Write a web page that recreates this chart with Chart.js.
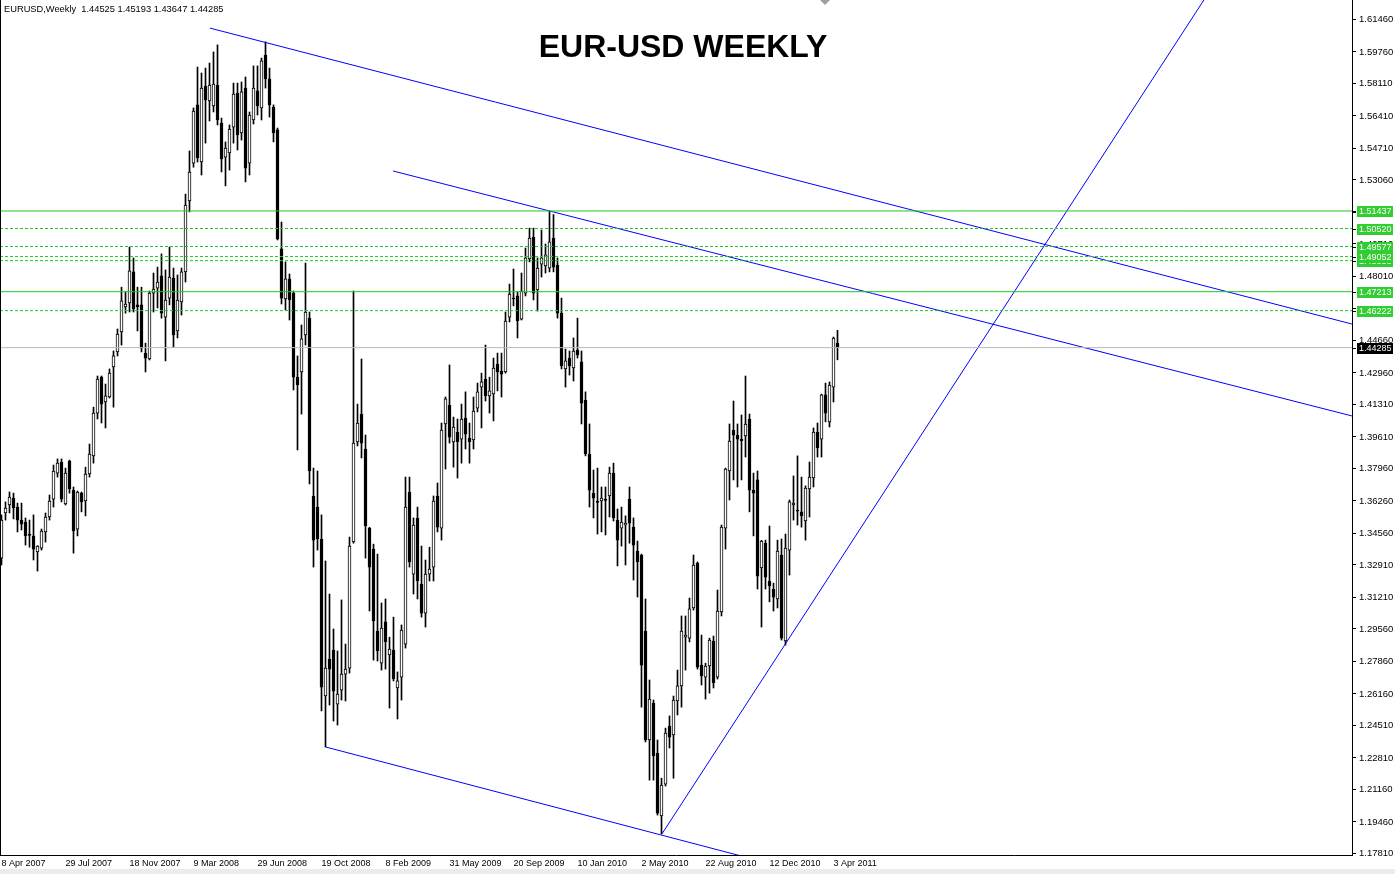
<!DOCTYPE html>
<html>
<head>
<meta charset="utf-8">
<title>EUR-USD Weekly</title>
<script src="https://cdn.jsdelivr.net/npm/chart.js"></script>
<style>
  html, body { margin: 0; padding: 0; background: #fff; }
  canvas { display: block; }
</style>
</head>
<body>
<canvas id="chart" width="1395" height="874"></canvas>
<script>
/* ---------- DATA (weekly bars, week 0 = 8 Apr 2007) ---------- */
const opens = [
  1.3327, 1.3563, 1.3605, 1.3641, 1.3594, 1.3526, 1.3516, 1.3448, 1.3443, 1.3359,
  1.3379, 1.3464, 1.3542, 1.3636, 1.3772, 1.3830, 1.3610, 1.3835, 1.3683, 1.3479,
  1.3667, 1.3626, 1.3767, 1.3862, 1.4086, 1.4274, 1.4144, 1.4170, 1.4327, 1.4406,
  1.4511, 1.4641, 1.4662, 1.4825, 1.4652, 1.4652, 1.4400, 1.4369, 1.4714, 1.4740,
  1.4804, 1.4588, 1.4688, 1.4793, 1.4516, 1.4668, 1.4825, 1.5196, 1.5394, 1.5699,
  1.5400, 1.5798, 1.5720, 1.5694, 1.5803, 1.5604, 1.5426, 1.5447, 1.5583, 1.5761,
  1.5552, 1.5787, 1.5394, 1.5620, 1.5772, 1.5683, 1.5960, 1.5835, 1.5688, 1.5568,
  1.4945, 1.4683, 1.4788, 1.4714, 1.4274, 1.4301, 1.4495, 1.4583, 1.3652, 1.3594,
  1.3427, 1.2605, 1.2799, 1.2846, 1.2563, 1.2636, 1.2720, 1.2751, 1.3411, 1.3935,
  1.4081, 1.3898, 1.3484, 1.3374, 1.2945, 1.2777, 1.2993, 1.2820, 1.2846, 1.2647,
  1.2704, 1.2877, 1.3673, 1.3243, 1.3537, 1.3191, 1.3039, 1.3243, 1.3280, 1.3652,
  1.3484, 1.4029, 1.4128, 1.3935, 1.3987, 1.3950, 1.4060, 1.3955, 1.3945, 1.4112,
  1.4222, 1.4264, 1.4176, 1.4186, 1.4343, 1.4306, 1.4301, 1.4588, 1.4688, 1.4699,
  1.4578, 1.4714, 1.4893, 1.5007, 1.4730, 1.4866, 1.4856, 1.4845, 1.5002, 1.4861,
  1.4609, 1.4317, 1.4374, 1.4322, 1.4416, 1.4354, 1.4154, 1.3872, 1.3667, 1.3621,
  1.3626, 1.3631, 1.3652, 1.3772, 1.3526, 1.3484, 1.3500, 1.3636, 1.3489, 1.3364,
  1.3343, 1.2945, 1.2375, 1.2568, 1.2306, 1.1977, 1.2144, 1.2448, 1.2401, 1.2579,
  1.2658, 1.2913, 1.2908, 1.3066, 1.3301, 1.2767, 1.2704, 1.2762, 1.2893, 1.2704,
  1.3045, 1.3484, 1.3783, 1.3997, 1.3971, 1.3950, 1.3966, 1.4055, 1.3683, 1.3736,
  1.3275, 1.3405, 1.3207, 1.3165, 1.3113, 1.3343, 1.2893, 1.3369, 1.3605, 1.3574,
  1.3569, 1.3521, 1.3689, 1.3746, 1.3987, 1.3950, 1.4181, 1.4040, 1.4222, 1.44525
];
const highs = [
  1.3553, 1.3621, 1.3673, 1.3667, 1.3615, 1.3615, 1.3537, 1.3526, 1.3553, 1.3392,
  1.3479, 1.3563, 1.3657, 1.3814, 1.3846, 1.3846, 1.3798, 1.3840, 1.3699, 1.3678,
  1.3673, 1.3803, 1.3924, 1.4117, 1.4280, 1.4280, 1.4238, 1.4317, 1.4411, 1.4526,
  1.4745, 1.4720, 1.4955, 1.4898, 1.4745, 1.4745, 1.4452, 1.4725, 1.4819, 1.4850,
  1.4919, 1.4835, 1.4955, 1.4845, 1.4809, 1.4845, 1.5232, 1.5458, 1.5683, 1.5897,
  1.5866, 1.5892, 1.5918, 1.5976, 1.6013, 1.5630, 1.5505, 1.5594, 1.5813, 1.5813,
  1.5819, 1.5845, 1.5662, 1.5903, 1.5903, 1.5944, 1.6029, 1.5892, 1.5699, 1.5578,
  1.5086, 1.4877, 1.4814, 1.4725, 1.4385, 1.4547, 1.4871, 1.4615, 1.3798, 1.3783,
  1.3553, 1.3312, 1.3139, 1.2956, 1.2841, 1.3108, 1.2877, 1.3437, 1.4725, 1.4133,
  1.4369, 1.3971, 1.3488, 1.3400, 1.3348, 1.3092, 1.3113, 1.2913, 1.3018, 1.2731,
  1.2977, 1.3751, 1.3751, 1.3537, 1.3594, 1.3390, 1.3317, 1.3384, 1.3652, 1.3720,
  1.4034, 1.4170, 1.4338, 1.4065, 1.4055, 1.4133, 1.4197, 1.4034, 1.4170, 1.4243,
  1.4295, 1.4442, 1.4274, 1.4374, 1.4400, 1.4400, 1.4615, 1.4761, 1.4840, 1.4720,
  1.4819, 1.4950, 1.5054, 1.5054, 1.4898, 1.5044, 1.4971, 1.5144, 1.5125, 1.4898,
  1.4688, 1.4421, 1.4411, 1.4479, 1.4583, 1.4411, 1.4197, 1.4029, 1.3788, 1.3798,
  1.3699, 1.3699, 1.3803, 1.3824, 1.3584, 1.3594, 1.3548, 1.3699, 1.3537, 1.3416,
  1.3348, 1.3113, 1.2689, 1.2584, 1.2375, 1.2175, 1.2437, 1.2501, 1.2605, 1.2741,
  1.3024, 1.3024, 1.3118, 1.3343, 1.3307, 1.2924, 1.2777, 1.2908, 1.2919, 1.3160,
  1.3500, 1.3798, 1.4029, 1.4149, 1.4029, 1.4076, 1.4280, 1.4081, 1.3772, 1.3783,
  1.3420, 1.3421, 1.3495, 1.3196, 1.3421, 1.3427, 1.3453, 1.3631, 1.3757, 1.3862,
  1.3751, 1.3705, 1.3830, 1.4008, 1.4034, 1.4185, 1.4243, 1.4249, 1.4484, 1.45193
];
const lows = [
  1.3291, 1.3526, 1.3563, 1.3532, 1.3464, 1.3474, 1.3395, 1.3384, 1.3317, 1.3259,
  1.3369, 1.3411, 1.3526, 1.3594, 1.3751, 1.3621, 1.3605, 1.3667, 1.3353, 1.3443,
  1.3569, 1.3548, 1.3751, 1.3824, 1.4055, 1.4034, 1.4008, 1.4165, 1.4117, 1.4385,
  1.4442, 1.4609, 1.4615, 1.4615, 1.4516, 1.4406, 1.4301, 1.4364, 1.4615, 1.4636,
  1.4583, 1.4359, 1.4652, 1.4431, 1.4479, 1.4599, 1.4772, 1.5139, 1.5373, 1.5400,
  1.5332, 1.5499, 1.5615, 1.5662, 1.5594, 1.5348, 1.5275, 1.5358, 1.5499, 1.5463,
  1.5515, 1.5296, 1.5332, 1.5599, 1.5646, 1.5620, 1.5787, 1.5635, 1.5505, 1.4992,
  1.4657, 1.4625, 1.4573, 1.4207, 1.3893, 1.4081, 1.4442, 1.3715, 1.3280, 1.3369,
  1.2527, 1.2338, 1.2558, 1.2474, 1.2453, 1.2584, 1.2579, 1.2725, 1.3405, 1.3914,
  1.3851, 1.3327, 1.3050, 1.2793, 1.2788, 1.2741, 1.2746, 1.2542, 1.2684, 1.2485,
  1.2584, 1.2856, 1.3280, 1.3139, 1.3113, 1.3018, 1.2966, 1.3207, 1.3207, 1.3464,
  1.3421, 1.3793, 1.3929, 1.3803, 1.3746, 1.3824, 1.3898, 1.3824, 1.3898, 1.4092,
  1.4008, 1.4149, 1.4086, 1.4045, 1.4202, 1.4170, 1.4295, 1.4563, 1.4647, 1.4479,
  1.4573, 1.4699, 1.4877, 1.4678, 1.4620, 1.4798, 1.4819, 1.4825, 1.4825, 1.4583,
  1.4317, 1.4222, 1.4285, 1.4254, 1.4374, 1.4029, 1.3862, 1.3594, 1.3537, 1.3453,
  1.3464, 1.3448, 1.3542, 1.3521, 1.3286, 1.3390, 1.3291, 1.3405, 1.3212, 1.3123,
  1.2547, 1.2365, 1.2165, 1.2165, 1.1982, 1.1883, 1.2134, 1.2333, 1.2175, 1.2506,
  1.2547, 1.2741, 1.2888, 1.3055, 1.2746, 1.2663, 1.2589, 1.2620, 1.2647, 1.2694,
  1.3024, 1.3374, 1.3631, 1.3736, 1.3699, 1.3736, 1.3856, 1.3569, 1.3443, 1.3165,
  1.2966, 1.3165, 1.3098, 1.3050, 1.3066, 1.2898, 1.2872, 1.3238, 1.3526, 1.3500,
  1.3489, 1.3421, 1.3542, 1.3699, 1.3856, 1.3856, 1.4040, 1.4013, 1.4144, 1.43647
];
const closes = [
  1.3526, 1.3589, 1.3646, 1.3589, 1.3526, 1.3505, 1.3443, 1.3446, 1.3374, 1.3390,
  1.3469, 1.3542, 1.3626, 1.3783, 1.3824, 1.3636, 1.3772, 1.3689, 1.3469, 1.3673,
  1.3621, 1.3767, 1.3872, 1.4086, 1.4264, 1.4133, 1.4176, 1.4295, 1.4385, 1.4500,
  1.4673, 1.4657, 1.4830, 1.4631, 1.4641, 1.4426, 1.4374, 1.4714, 1.4735, 1.4772,
  1.4609, 1.4678, 1.4798, 1.4495, 1.4678, 1.4825, 1.5175, 1.5348, 1.5667, 1.5421,
  1.5787, 1.5725, 1.5803, 1.5808, 1.5620, 1.5416, 1.5473, 1.5573, 1.5756, 1.5542,
  1.5767, 1.5368, 1.5646, 1.5787, 1.5694, 1.5929, 1.5835, 1.5699, 1.5552, 1.4997,
  1.4688, 1.4788, 1.4678, 1.4274, 1.4233, 1.4474, 1.4615, 1.3783, 1.3421, 1.3427,
  1.2652, 1.2751, 1.2746, 1.2631, 1.2615, 1.2720, 1.2746, 1.3390, 1.3929, 1.4034,
  1.3929, 1.3495, 1.3280, 1.2998, 1.2841, 1.2961, 1.2888, 1.2851, 1.2694, 1.2684,
  1.2950, 1.3594, 1.3307, 1.3500, 1.3207, 1.3039, 1.3243, 1.3270, 1.3626, 1.3489,
  1.3997, 1.4160, 1.3960, 1.4013, 1.3935, 1.4055, 1.3976, 1.3935, 1.4097, 1.4197,
  1.4249, 1.4176, 1.4202, 1.4322, 1.4301, 1.4290, 1.4568, 1.4709, 1.4683, 1.4568,
  1.4725, 1.4898, 1.5002, 1.4714, 1.4845, 1.4898, 1.4914, 1.4982, 1.4850, 1.4609,
  1.4333, 1.4359, 1.4333, 1.4411, 1.4390, 1.4138, 1.3872, 1.3683, 1.3641, 1.3619,
  1.3641, 1.3629, 1.3772, 1.3537, 1.3421, 1.3516, 1.3510, 1.3510, 1.3395, 1.3307,
  1.2767, 1.2375, 1.2589, 1.2291, 1.1992, 1.2139, 1.2411, 1.2390, 1.2584, 1.2658,
  1.2945, 1.2924, 1.3061, 1.3291, 1.2756, 1.2710, 1.2762, 1.2898, 1.2673, 1.3050,
  1.3489, 1.3793, 1.3940, 1.3971, 1.3950, 1.3940, 1.4029, 1.3683, 1.3667, 1.3233,
  1.3416, 1.3227, 1.3181, 1.3123, 1.3364, 1.2908, 1.3379, 1.3621, 1.3615, 1.3572,
  1.3548, 1.3694, 1.3751, 1.3987, 1.3903, 1.4181, 1.4086, 1.4233, 1.4479, 1.44285
];

const xTickWeeks = [0, 16, 32, 48, 64, 80, 96, 112, 128, 144, 160, 176, 192, 208];
const xTickLabels = [
  "8 Apr 2007", "29 Jul 2007", "18 Nov 2007", "9 Mar 2008", "29 Jun 2008",
  "19 Oct 2008", "8 Feb 2009", "31 May 2009", "20 Sep 2009", "10 Jan 2010",
  "2 May 2010", "22 Aug 2010", "12 Dec 2010", "3 Apr 2011"
];
const yTicks = [
  1.61460, 1.59760, 1.58110, 1.56410, 1.54710, 1.53060, 1.51360, 1.49710, 1.48010,
  1.46310, 1.44660, 1.42960, 1.41310, 1.39610, 1.37960, 1.36260, 1.34560, 1.32910,
  1.31210, 1.29560, 1.27860, 1.26160, 1.24510, 1.22810, 1.21160, 1.19460, 1.17810
];

// horizontal levels
const greenSolid = [1.51437, 1.47213];
const greenDash = [1.50520, 1.49577, 1.49052, 1.48838, 1.46222];
const bidPrice = 1.44285;

// trend lines, [week, price] pairs
const upperLine = [[52.1, 1.6101], [337.6, 1.4552]];
const middleLine = [[97.9, 1.5353], [337.6, 1.4071]];
const lowerLine = [[81.1, 1.2338], [200, 1.1685]];
const risingLine = [[165.1, 1.1883], [300.6, 1.6248]];

/* ---------- SETUP ---------- */
const X_MIN = -0.375;
const X_MAX = 337.625;
const Y_MIN = 1.1773;
const Y_MAX = 1.6248;
const FONT = "'Liberation Sans', Arial, sans-serif";
const GREEN = "#1fc81f";

const bodyData = opens.map((o, i) => ({ x: i, y: [o, closes[i]] }));
const wickData = opens.map((o, i) => ({ x: i, y: [lows[i], highs[i]] }));
const bodyColors = opens.map((o, i) => (closes[i] >= o ? "#ffffff" : "#000000"));

function levelLine(v, color, dash) {
  return {
    type: "line",
    data: [{ x: X_MIN, y: v }, { x: X_MAX, y: v }],
    borderColor: color,
    borderWidth: 1,
    borderDash: dash || [],
    pointRadius: 0,
    fill: false,
    order: 0
  };
}

function trendLine(pts) {
  return {
    type: "line",
    data: pts.map(p => ({ x: p[0], y: p[1] })),
    borderColor: "#0000ff",
    borderWidth: 1,
    pointRadius: 0,
    fill: false,
    order: 0
  };
}

const datasets = [
  levelLine(bidPrice, "#b8b8b8"),
  ...greenSolid.map(v => levelLine(v, GREEN)),
  ...greenDash.map(v => levelLine(v, GREEN, [3, 2])),
  trendLine(upperLine),
  trendLine(middleLine),
  trendLine(lowerLine),
  trendLine(risingLine),
  {
    type: "bar",
    data: bodyData,
    backgroundColor: bodyColors,
    borderColor: "#000000",
    borderWidth: 1,
    borderSkipped: false,
    barThickness: 3,
    minBarLength: 1,
    grouped: false,
    order: 1
  },
  {
    type: "bar",
    data: wickData,
    backgroundColor: "#000000",
    borderWidth: 0,
    barThickness: 1,
    grouped: false,
    order: 2
  }
];

/* ---------- OVERLAY: header, title, price boxes ---------- */
const overlay = {
  id: "overlay",
  afterDraw(chart) {
    const ctx = chart.ctx;
    const yScale = chart.scales.y;
    const area = chart.chartArea;
    const last = opens.length - 1;
    ctx.save();

    // bottom strip
    ctx.fillStyle = "#ececec";
    ctx.fillRect(0, 869, 1395, 5);

    // left frame
    ctx.fillStyle = "#000";
    ctx.fillRect(0, 0, 1, area.bottom);

    // chart shift marker
    ctx.fillStyle = "#a0a0a0";
    ctx.beginPath();
    ctx.moveTo(820, 0);
    ctx.lineTo(830, 0);
    ctx.lineTo(825, 5);
    ctx.closePath();
    ctx.fill();

    // header
    ctx.fillStyle = "#000";
    ctx.font = "9.3px " + FONT;
    ctx.textAlign = "left";
    ctx.textBaseline = "alphabetic";
    const header = "EURUSD,Weekly  " + [opens[last], highs[last], lows[last], closes[last]]
      .map(v => v.toFixed(5)).join(" ");
    ctx.fillText(header, 4, 12);

    // title
    ctx.font = "bold 32px " + FONT;
    ctx.textAlign = "center";
    ctx.fillText("EUR-USD WEEKLY", 683, 57);

    // price boxes on the right axis
    const boxes = [...greenSolid, ...greenDash].sort((a, b) => a - b)
      .map(v => ({ v, bg: "#32cd32" }));
    boxes.push({ v: bidPrice, bg: "#000" });
    ctx.font = "9px " + FONT;
    ctx.textAlign = "left";
    ctx.textBaseline = "middle";
    boxes.forEach(b => {
      const py = Math.round(yScale.getPixelForValue(b.v));
      ctx.fillStyle = "#000";
      ctx.fillRect(area.right, py, 4, 1);
      ctx.fillStyle = b.bg;
      ctx.fillRect(1357, py - 5, 36, 11);
      ctx.fillStyle = "#fff";
      ctx.fillText(b.v.toFixed(5), 1359, py + 0.5);
    });

    ctx.restore();
  }
};

/* ---------- CHART ---------- */
new Chart(document.getElementById("chart"), {
  type: "bar",
  data: { datasets },
  options: {
    responsive: false,
    animation: false,
    devicePixelRatio: 1,
    layout: { padding: 0 },
    plugins: {
      legend: { display: false },
      tooltip: { enabled: false }
    },
    scales: {
      x: {
        type: "linear",
        min: X_MIN,
        max: X_MAX,
        offset: false,
        grid: { display: true, drawOnChartArea: false, drawTicks: false, offset: false },
        border: { display: true, color: "#000", width: 1 },
        ticks: {
          autoSkip: false,
          maxRotation: 0,
          minRotation: 0,
          align: "start",
          padding: 3,
          color: "#000",
          font: { family: FONT, size: 9 },
          callback: v => xTickLabels[xTickWeeks.indexOf(v)]
        },
        afterBuildTicks: s => { s.ticks = xTickWeeks.map(v => ({ value: v })); },
        afterFit: s => { s.height = 19; s.paddingLeft = 0; s.paddingRight = 0; }
      },
      y: {
        type: "linear",
        position: "right",
        min: Y_MIN,
        max: Y_MAX,
        grid: { drawOnChartArea: false, drawTicks: true, tickLength: 4, color: "#000" },
        border: { display: true, color: "#000", width: 1 },
        ticks: {
          padding: 3,
          crossAlign: "near",
          color: "#000",
          font: { family: FONT, size: 9.5 },
          callback: v => v.toFixed(5)
        },
        afterBuildTicks: s => { s.ticks = yTicks.map(v => ({ value: v })); },
        afterFit: s => { s.width = 43; s.paddingTop = 0; s.paddingBottom = 0; }
      }
    }
  },
  plugins: [overlay]
});
</script>
</body>
</html>
